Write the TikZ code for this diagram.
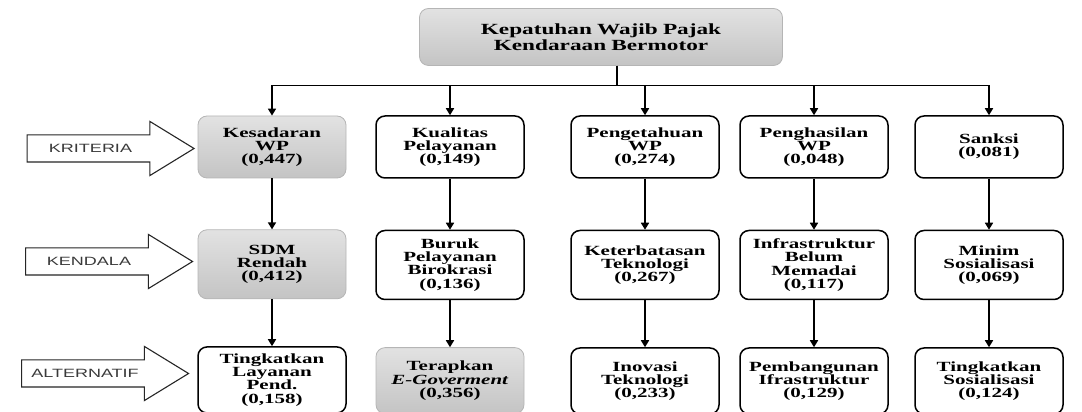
\documentclass[tikz,border=0pt]{standalone}
\usepackage{fontspec}
\setmainfont{Liberation Serif}[FakeStretch=1.5]
\newfontfamily\labelfont{Liberation Sans}[FakeStretch=1.5]
\usetikzlibrary{arrows.meta,positioning,shapes.arrows}
\definecolor{AbuAtas}{HTML}{E2E2E2}
\definecolor{AbuBawah}{HTML}{C4C4C4}
\definecolor{GarisAbu}{HTML}{B5B5B5}
\definecolor{Teks}{HTML}{3A3A3A}

\begin{document}
\begin{tikzpicture}[x=1pt,y=1pt,
        kotak/.style={draw,line width=1.5pt,rounded corners=9pt,minimum width=148pt,text width=142pt,align=center,inner sep=2pt,font=\fontsize{14}{13.2}\selectfont\bfseries},
        kotakabu/.style={kotak,draw=GarisAbu,line width=0.8pt,top color=AbuAtas,bottom color=AbuBawah},
        panah/.style={-{Triangle[length=7pt,width=8pt]},line width=1.6pt},
        panahbesar/.style={single arrow,draw=black!85,line width=1.1pt,fill=white,minimum height=167pt,minimum width=53pt,single arrow head extend=13.5pt,single arrow tip angle=63,text height=8.5pt,text depth=0pt,inner ysep=8.75pt,font=\labelfont\fontsize{12}{12}\selectfont,text=Teks,execute at end node=\hspace*{18pt}}]
        \useasboundingbox (0,0) rectangle (1082,412);
        \node[kotakabu,minimum width=363pt,minimum height=57pt,text width=350pt,font=\fontsize{15.5}{15.5}\selectfont\bfseries] (puncak) at (601,375) {Kepatuhan Wajib Pajak\\Kendaraan Bermotor};
        % kriteria
        \node[kotakabu,minimum height=62pt] (k1) at (272,265) {Kesadaran\\WP\\(0,447)};
        \node[kotak,minimum height=62pt] (k2) at (450,265) {Kualitas\\Pelayanan\\(0,149)};
        \node[kotak,minimum height=62pt] (k3) at (645,265) {Pengetahuan\\WP\\(0,274)};
        \node[kotak,minimum height=62pt] (k4) at (814,265) {Penghasilan\\WP\\(0,048)};
        \node[kotak,minimum height=62pt] (k5) at (989,265) {Sanksi\\(0,081)};
        % kendala
        \node[kotakabu,minimum height=69pt,below=51pt of k1] (d1) {SDM\\Rendah\\(0,412)};
        \node[kotak,minimum height=69pt,below=51pt of k2] (d2) {Buruk\\Pelayanan\\Birokrasi\\(0,136)};
        \node[kotak,minimum height=69pt,below=51pt of k3] (d3) {Keterbatasan\\Teknologi\\(0,267)};
        \node[kotak,minimum height=69pt,below=51pt of k4] (d4) {Infrastruktur\\Belum\\Memadai\\(0,117)};
        \node[kotak,minimum height=69pt,below=51pt of k5] (d5) {Minim\\Sosialisasi\\(0,069)};
        % alternatif
        \node[kotak,minimum height=66pt,below=47pt of d1] (a1) {Tingkatkan\\Layanan\\Pend.\\(0,158)};
        \node[kotakabu,minimum height=66pt,below=47pt of d2] (a2) {Terapkan\\\textit{E-Goverment}\\(0,356)};
        \node[kotak,minimum height=66pt,below=47pt of d3] (a3) {Inovasi\\Teknologi\\(0,233)};
        \node[kotak,minimum height=66pt,below=47pt of d4] (a4) {Pembangunan\\Ifrastruktur\\(0,129)};
        \node[kotak,minimum height=66pt,below=47pt of d5] (a5) {Tingkatkan\\Sosialisasi\\(0,124)};
        % label baris
        \node[panahbesar] (kriteria) at (99.5,263.5) {KRITERIA};
        \node[panahbesar] (kendala) at (98,150.5) {KENDALA};
        \node[panahbesar] (alternatif) at (94,38.5) {ALTERNATIF};
        \draw[panah] ([xshift=16pt]puncak.south) -- ++(0,-19.5) -| (k1.north);\draw[panah] ([xshift=16pt]puncak.south) -- ++(0,-19.5) -| (k2.north);
        \draw[panah] ([xshift=16pt]puncak.south) -- ++(0,-19.5) -| (k3.north);\draw[panah] ([xshift=16pt]puncak.south) -- ++(0,-19.5) -| (k4.north);
        \draw[panah] ([xshift=16pt]puncak.south) -- ++(0,-19.5) -| (k5.north);
        \draw[panah] (k1) -- (d1);\draw[panah] (k2) -- (d2);\draw[panah] (k3) -- (d3);\draw[panah] (k4) -- (d4);\draw[panah] (k5) -- (d5);
        \draw[panah] (d1) -- (a1);\draw[panah] (d2) -- (a2);\draw[panah] (d3) -- (a3);\draw[panah] (d4) -- (a4);\draw[panah] (d5) -- (a5);
      \end{tikzpicture}
\end{document}
